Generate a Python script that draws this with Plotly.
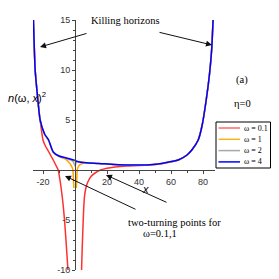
import plotly.graph_objects as go

# ---- data ----
red_x_left = [-26.0, -25.5, -24.9, -23.5, -21.8, -20.0, -18.5, -16.7, -15.0, -13.6, -12.0, -10.5, -9.5, -8.5, -7.4, -6.4, -5.4, -4.4]
red_y_left = [15.0, 12.5, 10.0, 7.5, 5.0, 3.0, 2.4, 1.9, 1.4, 1.0, 0.5, 0.0, -0.9, -2.0, -3.5, -5.3, -7.6, -10.0]
red_x_right = [4.1, 4.5, 5.0, 5.4, 5.9, 6.8, 8.0, 10.0, 13.0, 16.0, 20.0, 25.0, 32.0, 40.0, 50.0, 58.0, 64.5, 70.0, 73.0, 77.0, 79.5, 82.0, 84.0, 85.4, 86.3]
red_y_right = [-10.0, -7.8, -5.6, -4.0, -2.7, -1.8, -1.2, -0.65, -0.25, 0.0, 0.18, 0.3, 0.4, 0.45, 0.55, 0.75, 1.0, 1.5, 2.0, 3.0, 4.5, 7.0, 9.5, 12.0, 15.0]

orange_x_left = [-26.0, -25.5, -24.9, -23.5, -21.8, -19.0, -16.5, -13.6, -10.0, -6.0, -4.0, -2.6, -1.8, -1.3, -1.0, -0.7]
orange_y_left = [15.0, 12.5, 10.0, 7.5, 5.0, 3.55, 2.95, 1.75, 1.35, 1.1, 0.8, 0.5, 0.25, 0.0, -0.9, -1.8]
orange_x_right = [0.8, 1.1, 1.4, 2.0, 2.8, 3.9, 7.0, 15.0, 25.0, 36.0, 45.0, 52.0, 58.0, 64.5, 70.0, 73.0, 77.0, 79.5, 82.0, 84.0, 85.4, 86.3]
orange_y_right = [-1.8, -0.9, 0.0, 0.3, 0.5, 0.6, 0.7, 0.64, 0.53, 0.48, 0.48, 0.58, 0.76, 0.98, 1.48, 1.98, 2.98, 4.5, 7.0, 9.5, 12.0, 15.0]

gray_x = [-26.0, -25.5, -24.9, -23.5, -21.8, -19.0, -16.5, -13.6, -10.0, -5.4, -2.5, -1.0, 0.0, 1.0, 2.5, 7.0, 15.0, 25.0, 36.0, 45.0, 52.0, 58.0, 64.5, 70.0, 73.0, 77.0, 79.5, 82.0, 84.0, 85.4, 86.3]
gray_y = [15.0, 12.5, 10.0, 7.5, 5.0, 3.6, 3.0, 1.8, 1.4, 1.15, 1.0, 0.8, 0.4, 0.8, 0.85, 0.73, 0.66, 0.55, 0.5, 0.5, 0.6, 0.78, 1.0, 1.5, 2.0, 3.0, 4.5, 7.0, 9.5, 12.0, 15.0]

blue_x = [-26.0, -25.5, -24.9, -23.5, -21.8, -19.0, -16.5, -13.6, -10.0, -5.4, -2.0, 0.0, 2.0, 7.0, 15.0, 25.0, 36.0, 45.0, 52.0, 58.0, 64.5, 70.0, 73.0, 77.0, 79.5, 82.0, 84.0, 85.4, 86.3]
blue_y = [15.0, 12.5, 10.0, 7.5, 5.0, 3.6, 3.0, 1.8, 1.4, 1.2, 1.05, 0.95, 0.82, 0.73, 0.66, 0.55, 0.5, 0.5, 0.6, 0.78, 1.0, 1.5, 2.0, 3.0, 4.5, 7.0, 9.5, 12.0, 15.0]

x_ticks = [-20, 20, 40, 60, 80]
x_tick_text = ["-20", "20", "40", "60", "80"]
y_ticks = [-10, -5, 5, 10, 15]
y_tick_text = ["-10", "-5", "5", "10", "15"]

legend_labels = ["ω = 0.1", "ω = 1", "ω = 2", "ω = 4"]
colors = ["#ff3030", "#ffa500", "#a8a8a8", "#0000ff"]
legend_colors = ["#ff6a6a", "#ffb020", "#a8a8a8", "#0000ff"]

X_RANGE = [-26.25, 87.5]
Y_RANGE = [-10, 15]

SERIF = "Liberation Serif"
SANS = "Liberation Sans"

fig = go.Figure()
fig.add_trace(go.Scatter(x=red_x_left + [None] + red_x_right, y=red_y_left + [None] + red_y_right,
                         mode="lines", line=dict(color=colors[0], width=1.5, shape="spline", smoothing=0.6),
                         name=legend_labels[0], connectgaps=False))
fig.add_trace(go.Scatter(x=orange_x_left + [None] + orange_x_right, y=orange_y_left + [None] + orange_y_right,
                         mode="lines", line=dict(color=colors[1], width=1.5, shape="spline", smoothing=0.6),
                         name=legend_labels[1], connectgaps=False))
fig.add_trace(go.Scatter(x=gray_x, y=gray_y, mode="lines",
                         line=dict(color=colors[2], width=1.5, shape="spline", smoothing=0.6),
                         name=legend_labels[2]))
fig.add_trace(go.Scatter(x=blue_x, y=blue_y, mode="lines",
                         line=dict(color=colors[3], width=1.5, shape="spline", smoothing=0.6),
                         name=legend_labels[3]))

# page offset (body margin) and plot area geometry in reference pixels
OFF = 8
FW = 279 - OFF
FH = 279 - OFF
L, R, T, B = 33, 215, 20, 270
W, H = R - L, B - T

def px(xp):
    return (xp - L) / W

def py(yp):
    return (B - yp) / H

x0_pos = (0 - X_RANGE[0]) / (X_RANGE[1] - X_RANGE[0])
y0_pos = (0 - Y_RANGE[0]) / (Y_RANGE[1] - Y_RANGE[0])

fig.update_layout(
    width=FW, height=FH,
    margin=dict(l=L - OFF, r=FW - (R - OFF), t=T - OFF, b=FH - (B - OFF), autoexpand=False),
    paper_bgcolor="white", plot_bgcolor="white",
    showlegend=False,
    xaxis=dict(range=X_RANGE, anchor="free", position=y0_pos, showline=True, linecolor="#444",
               linewidth=1, ticks="outside", ticklen=3, tickcolor="#444", tickvals=x_ticks,
               ticktext=x_tick_text, tickfont=dict(family=SANS, size=9, color="#333"),
               showgrid=False, zeroline=False,
               minor=dict(ticks="outside", ticklen=2, dtick=10, tick0=0, tickcolor="#444", showgrid=False)),
    yaxis=dict(range=Y_RANGE, anchor="free", position=x0_pos, showline=True, linecolor="#444",
               linewidth=1, ticks="outside", ticklen=3, tickcolor="#444", tickvals=y_ticks,
               ticktext=y_tick_text, tickfont=dict(family=SANS, size=9, color="#333"),
               showgrid=False, zeroline=False,
               minor=dict(ticks="outside", ticklen=2, dtick=1, tick0=0, tickcolor="#444", showgrid=False)),
)

ann = []
for head, tail in [((40, 47), (88, 33)), ((212, 45), (158, 32)),
                   ((65, 176), (137, 210)), ((106, 175), (168, 203))]:
    ann.append(dict(x=px(head[0]), y=py(head[1]), xref="paper", yref="paper",
                    ax=tail[0] - head[0], ay=tail[1] - head[1], axref="pixel", ayref="pixel",
                    text="", showarrow=True, arrowhead=2, arrowsize=1.2, arrowwidth=1, arrowcolor="#111"))

def txt(s, xp, yp, font, size, anchor="center"):
    ann.append(dict(x=px(xp), y=py(yp), xref="paper", yref="paper", text=s, showarrow=False,
                    xanchor=anchor, yanchor="middle", font=dict(family=font, size=size, color="black")))

txt("Killing horizons", 125, 20, SERIF, 10.5)
txt("(a)", 242, 80, SERIF, 10.5)
txt("η=0", 243, 104, SERIF, 10.5)
txt("two-turning points for", 174, 222, SERIF, 10.5)
txt("ω=0.1,1", 160, 233, SERIF, 10.5)
txt("<i>n</i>(ω, <i>x</i>)<sup>2</sup>", 27, 97, SANS, 11)
txt("<i>x</i>", 145, 189, SANS, 11)

shapes = [dict(type="rect", xref="paper", yref="paper", x0=px(216), x1=px(270.5), y0=py(168), y1=py(122),
               line=dict(color="black", width=1), fillcolor="white", layer="above")]
for i, (lab, c) in enumerate(zip(legend_labels, legend_colors)):
    yy = 128 + i * 11.3
    shapes.append(dict(type="line", xref="paper", yref="paper", x0=px(218.5), x1=px(240), y0=py(yy), y1=py(yy),
                       line=dict(color=c, width=1.5), layer="above"))
    txt(lab, 242.5, yy, SERIF, 8, anchor="left")

fig.update_layout(annotations=ann, shapes=shapes)
fig.write_html("out.html")
